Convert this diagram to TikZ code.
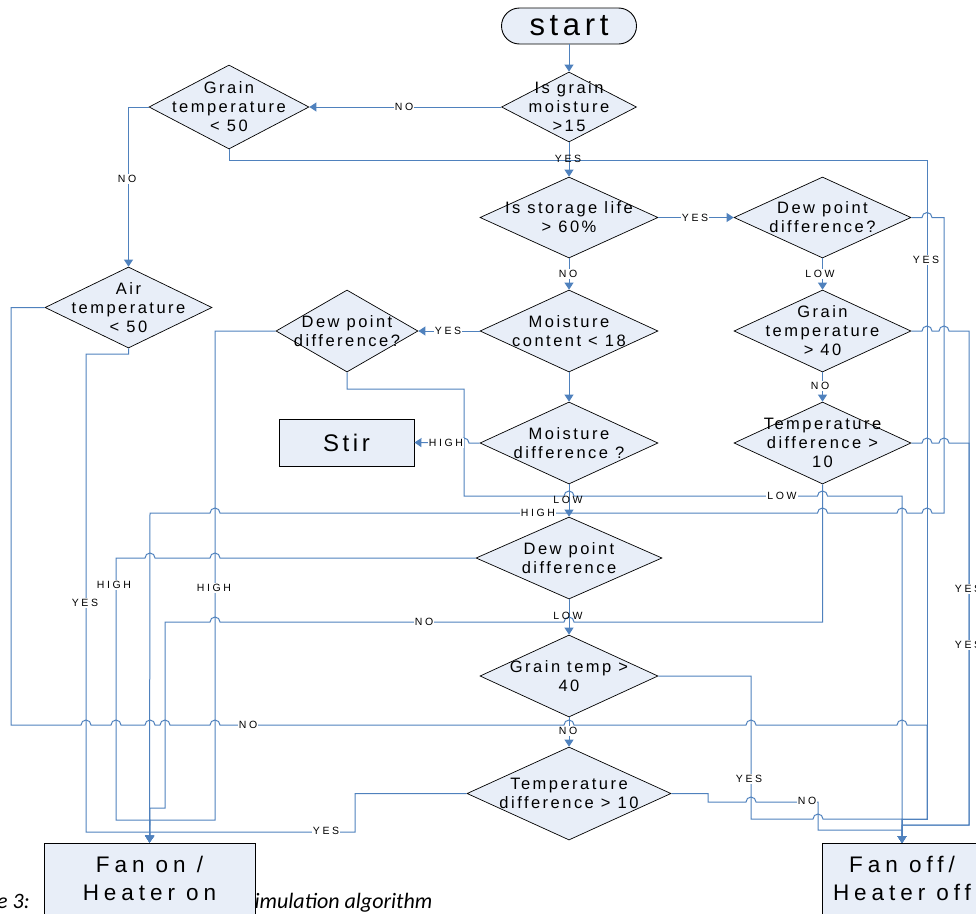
\documentclass[tikz,border=0pt]{standalone}
\usepackage{fontspec}
\setmainfont{Liberation Sans}
\newfontfamily\dfam[LetterSpace=15]{Liberation Sans}
\newfontfamily\lfam[LetterSpace=25]{Liberation Sans}
\newfontfamily\bfam[LetterSpace=22]{Liberation Sans}
\newfontfamily\capfam{Carlito}
\usetikzlibrary{shapes.geometric,arrows.meta}
\definecolor{cblue}{HTML}{4F81BD}
\definecolor{dfill}{HTML}{E8EEF8}
\newcommand\jumpR[2]{-- (#1-5,#2) arc[start angle=180,end angle=0,radius=5pt]}
\newcommand\jumpL[2]{-- (#1+5,#2) arc[start angle=0,end angle=180,radius=5pt]}
\tikzset{
  flow/.style={draw=cblue, line width=1pt},
  arr/.style={flow, -{Triangle[length=7pt,width=9pt]}},
  dia/.style={diamond, draw=black, line width=0.7pt, fill=dfill, inner sep=0pt},
  dtext/.style={font=\dfam\fontsize{16.5}{19}\selectfont, align=center, inner sep=0pt},
  lbl/.style={font=\lfam\fontsize{10.5}{12}\selectfont, fill=white, inner sep=1pt},
  lbln/.style={font=\lfam\fontsize{10.5}{12}\selectfont, inner sep=1pt},
  boxst/.style={rectangle, draw=black, line width=0.9pt, fill=dfill, inner sep=0pt},
  btext/.style={font=\bfam\fontsize{22.5}{28}\selectfont, align=center, inner sep=0pt},
}
\begin{document}
\begin{tikzpicture}[x=1pt,y=-1pt]
\useasboundingbox (0,0) rectangle (976,913);
% caption (partly hidden)
\node[anchor=base west, font=\capfam\itshape\fontsize{22}{26}\selectfont, inner sep=0pt] (cap1) at (-3,908) {e 3:};
\node[anchor=base west, font=\capfam\itshape\fontsize{22}{26}\selectfont, inner sep=0pt] (cap2) at (254.5,908) {imulation algorithm};
% nodes
\node[boxst, rounded corners=18pt, minimum width=135pt, minimum height=36pt] (start) at (569,26) {};
\node[font=\dfam\fontsize{31}{34}\selectfont, inner sep=0pt] at (start.center) {start};
\node[dia, minimum width=135pt, minimum height=70pt] (d1) at (569,107) {};
\node[dia, minimum width=160pt, minimum height=84pt] (gt50) at (229,107) {};
\node[dia, minimum width=178pt, minimum height=81pt] (sl) at (569,217.5) {};
\node[dia, minimum width=177pt, minimum height=81pt] (dpr) at (822.5,217.5) {};
\node[dia, minimum width=167pt, minimum height=81pt] (at50) at (128.5,307.5) {};
\node[dia, minimum width=142pt, minimum height=82pt] (dpl) at (347,331) {};
\node[dia, minimum width=178pt, minimum height=82pt] (mc18) at (569,331) {};
\node[dia, minimum width=177pt, minimum height=82pt] (gt40r) at (822.5,331) {};
\node[dia, minimum width=178pt, minimum height=82pt] (md) at (569,443) {};
\node[dia, minimum width=177pt, minimum height=82pt] (td10r) at (822.5,443) {};
\node[boxst, minimum width=135pt, minimum height=47pt] (stir) at (346.5,442.5) {};
\node[dia, minimum width=186pt, minimum height=82pt] (dpm) at (569,558) {};
\node[dia, minimum width=178pt, minimum height=82pt] (gt40m) at (569,676) {};
\node[dia, minimum width=204pt, minimum height=93pt] (td10m) at (569,793.5) {};
\node[boxst, minimum width=211pt, minimum height=80pt] (fanon) at (149.5,883) {};
\node[boxst, minimum width=166pt, minimum height=80pt] (fanoff) at (905,883) {};
% node texts
\node[dtext] at (d1.center) {Is grain\\moisture\\>15};
\node[dtext] at (gt50.center) {Grain\\temperature\\< 50};
\node[dtext] at (sl.center) {Is storage life\\> 60\%};
\node[dtext] at (dpr.center) {Dew point\\difference?};
\node[dtext] at (at50.center) {Air\\temperature\\< 50};
\node[dtext] at (dpl.center) {Dew point\\difference?};
\node[dtext] at (mc18.center) {Moisture\\content < 18};
\node[dtext] at (gt40r.center) {Grain\\temperature\\> 40};
\node[dtext] at (md.center) {Moisture\\difference ?};
\node[dtext] at (td10r.center) {Temperature\\difference >\\10};
\node[font=\dfam\fontsize{24}{28}\selectfont, inner sep=0pt] at (stir.center) {Stir};
\node[dtext] at (dpm.center) {Dew point\\difference};
\node[dtext] at (gt40m.center) {Grain temp >\\40};
\node[dtext] at (td10m.center) {Temperature\\difference > 10};
\node[btext] at (149.5,878) {Fan on /\\Heater on};
\node[btext] at (902,878) {Fan off/\\Heater off};
% connectors
\draw[arr] (start.south) -- (d1.north);
\draw[arr] (d1.west) -- (gt50.east);
\draw[arr] (gt50.west) -| (at50.north);
\draw[arr] (gt50.south) -- (229,160) -- (927,160) -- (927,819) -- (902,819) -- (902,843);
\draw[arr] (d1.south) -- (sl.north);
\draw[arr] (sl.east) -- (dpr.west);
\draw[arr] (sl.south) -- (mc18.north);
\draw[arr] (dpr.east) \jumpR{927}{217.5} -- (944,217.5) -- (944,513) \jumpL{927}{513} \jumpL{902}{513} \jumpL{822.5}{513} \jumpL{215}{513} -- (150,513) -- (fanon.north);
\draw[arr] (dpr.south) -- (gt40r.north);
\draw[arr] (gt40r.south) -- (td10r.north);
\draw[arr] (gt40r.east) \jumpR{927}{331} \jumpR{944}{331} -- (969,331) -- (969,825) -- (902,825) -- (902,843);
\draw[arr] (td10r.east) \jumpR{927}{443} \jumpR{944}{443} -- (969,443) -- (969,825) -- (902,825) -- (902,843);
\draw[arr] (td10r.south) -- (822.5,622) \jumpL{569}{622} \jumpL{215}{622} -- (165,622) -- (165,808) -- (150,808) -- (fanon.north);
\draw[arr] (mc18.west) -- (dpl.east);
\draw[arr] (mc18.south) -- (md.north);
\draw[arr] (md.west) \jumpL{464}{443} -- (stir.east);
\draw[arr] (md.south) -- (dpm.north);
\draw[arr] (dpl.west) -- (215,331) -- (215,820) -- (150,820) -- (fanon.north);
\draw[arr] (dpl.south) -- (347,389) -- (464,389) -- (464,496) \jumpR{569}{496} \jumpR{822.5}{496} -- (902,496) -- (902,843);
\draw[arr] (dpm.west) \jumpL{215}{558} \jumpL{150}{558} -- (116,558) -- (116,820) -- (150,820) -- (fanon.north);
\draw[arr] (dpm.south) -- (gt40m.north);
\draw[arr] (gt40m.east) -- (751,676) -- (751,819) \jumpR{818}{819} -- (902,819) -- (902,843);
\draw[arr] (gt40m.south) -- (td10m.north);
\draw[arr] (at50.west) -- (11,307.5) -- (11,725) \jumpR{86}{725} \jumpR{116}{725} \jumpR{150}{725} \jumpR{165}{725} \jumpR{215}{725} \jumpR{569}{725} \jumpR{751}{725} \jumpR{902}{725} -- (927,725) -- (927,819) -- (902,819) -- (902,843);
\draw[arr] (at50.south) -- (128.5,354) -- (86,354) -- (86,832) -- (150,832) -- (fanon.north);
\draw[arr] (td10m.west) -- (355,793.5) -- (355,832) -- (150,832) -- (fanon.north);
\draw[arr] (td10m.east) -- (708,793.5) -- (708,802) \jumpR{751}{802} -- (818,802) -- (818,830) -- (902,830) -- (902,843);
% labels
\node[lbl] at (404,107) {NO};
\node[lbl] at (127,179) {NO};
\node[lbln] at (568,159) {YES};
\node[lbl] at (926,260) {YES};
\node[lbl] at (695,217.5) {YES};
\node[lbl] at (568,274) {NO};
\node[lbl] at (820,274) {LOW};
\node[lbl] at (448,331) {YES};
\node[lbl] at (820,386) {NO};
\node[lbl] at (446,443) {HIGH};
\node[lbl] at (782,496) {LOW};
\node[lbln] at (568,500) {LOW};
\node[lbl] at (538,513) {HIGH};
\node[lbl] at (114,585) {HIGH};
\node[lbl] at (214,588) {HIGH};
\node[lbl] at (85,603) {YES};
\node[lbl] at (968,589) {YES};
\node[lbl] at (968,645) {YES};
\node[lbln] at (568,616) {LOW};
\node[lbl] at (424,622) {NO};
\node[lbl] at (248,725) {NO};
\node[lbl] at (568,731) {NO};
\node[lbl] at (749,779) {YES};
\node[lbl] at (807,801) {NO};
\node[lbl] at (326,831) {YES};
\end{tikzpicture}
\end{document}
